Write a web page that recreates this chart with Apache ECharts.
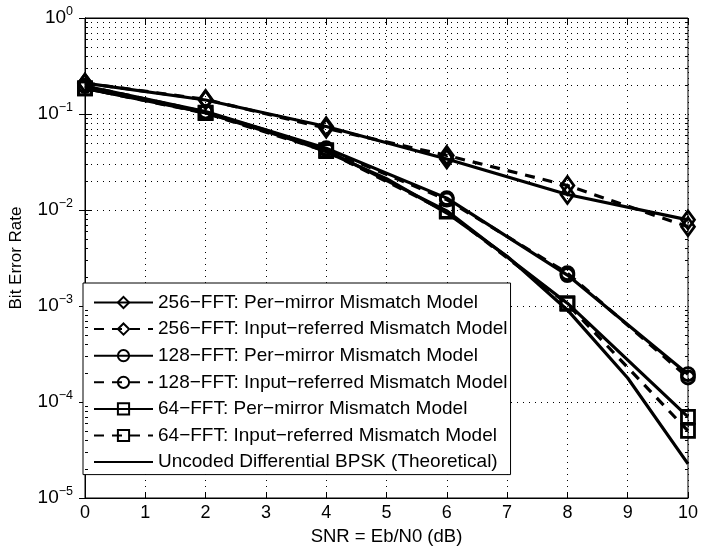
<!DOCTYPE html>
<html>
<head>
<meta charset="utf-8">
<script src="https://cdn.jsdelivr.net/npm/echarts@6/dist/echarts.min.js"></script>
<style>
  html, body { margin: 0; padding: 0; background: #fff; }
  #chart { width: 701px; height: 552px; }
</style>
</head>
<body>
<div id="chart"></div>
<script>
// SNR points (dB)
var snrMeasured = [0, 2, 4, 6, 8, 10]
var snrTheory = [0, 1, 2, 3, 4, 5, 6, 7, 8, 9, 10]

// bit error rates
var ber256Mirror = [0.21, 0.14, 0.074, 0.034, 0.0145, 0.0079]
var ber256Input = [0.21, 0.142, 0.071, 0.037, 0.018, 0.0067]
var ber128Mirror = [0.196, 0.106, 0.044, 0.0133, 0.0021, 0.000195]
var ber128Input = [0.196, 0.105, 0.043, 0.0128, 0.0022, 0.00018]
var ber64Mirror = [0.185, 0.103, 0.042, 0.0098, 0.00107, 0.00007]
var ber64Input = [0.185, 0.102, 0.041, 0.0096, 0.00105, 0.00005]
var berTheory = [0.184, 0.142, 0.1025, 0.068, 0.0405, 0.0212, 0.0093, 0.0033, 0.00091, 0.000178, 0.0000227]

var names = [
  '256\u2212FFT: Per\u2212mirror Mismatch Model',
  '256\u2212FFT: Input\u2212referred Mismatch Model',
  '128\u2212FFT: Per\u2212mirror Mismatch Model',
  '128\u2212FFT: Input\u2212referred Mismatch Model',
  '64\u2212FFT: Per\u2212mirror Mismatch Model',
  '64\u2212FFT: Input\u2212referred Mismatch Model',
  'Uncoded Differential BPSK (Theoretical)'
]

function pairs(xs, ys) {
  return xs.map(function (x, i) { return [x, ys[i]] })
}

// matlab style log grid: 2..9 x 10^k
var minorVals = []
for (var k = -5; k < 0; k++) {
  for (var m = 2; m <= 9; m++) minorVals.push(m * Math.pow(10, k))
}
var gridLines = minorVals.map(function (v) { return { yAxis: v } })
var minorTicks = []
minorVals.forEach(function (v) {
  minorTicks.push([{ coord: [0, v] }, { coord: [0.05, v] }])
  minorTicks.push([{ coord: [9.95, v] }, { coord: [10, v] }])
})

var font = 'Liberation Sans, Arial, Helvetica, sans-serif'
var dotted = { color: '#000', width: 1, type: [1, 5] }

function measured(name, ys, symbol, size, dashed) {
  return {
    name: name,
    type: 'line',
    data: pairs(snrMeasured, ys),
    symbol: symbol,
    symbolSize: size,
    showAllSymbol: true,
    lineStyle: { color: '#000', width: 3.2, type: dashed ? [10, 8] : 'solid' },
    itemStyle: { color: 'rgba(255,255,255,0)', borderColor: '#000', borderWidth: 2.8 },
    emphasis: { disabled: true }
  }
}

var myChart = echarts.init(document.getElementById('chart'))

var option = {
  animation: false,
  textStyle: { fontFamily: font },
  grid: { left: 81, right: 9, top: 18, bottom: 54, show: true, borderColor: '#000', borderWidth: 1, backgroundColor: '#fff' },
  legend: {
    orient: 'vertical',
    left: 83,
    top: 283,
    padding: [10, 3, 3, 10],
    itemWidth: 59,
    itemHeight: 14,
    itemGap: 7.6,
    backgroundColor: '#fff',
    borderColor: '#000',
    borderWidth: 1,
    textStyle: { fontFamily: font, fontSize: 19, color: '#000', lineHeight: 18 },
    data: names.slice(0, 6).concat([{ name: names[6], itemStyle: { opacity: 0 } }])
  },
  xAxis: [{
    type: 'value',
    min: 0,
    max: 10,
    interval: 1,
    name: 'SNR = Eb/N0 (dB)',
    nameLocation: 'middle',
    nameGap: 29,
    nameTextStyle: { fontSize: 18.5, color: '#000', fontFamily: font },
    axisLine: { lineStyle: { color: '#000' } },
    axisTick: { inside: true, length: 6, lineStyle: { color: '#000' } },
    axisLabel: { fontSize: 18, color: '#000', margin: 6, fontFamily: font },
    splitLine: { show: true, lineStyle: dotted }
  }, {
    type: 'value',
    position: 'top',
    min: 0,
    max: 10,
    interval: 1,
    axisLine: { show: true, lineStyle: { color: '#000' } },
    axisTick: { show: true, inside: true, length: 6, lineStyle: { color: '#000' } },
    axisLabel: { show: false },
    splitLine: { show: false }
  }],
  yAxis: [{
    type: 'log',
    logBase: 10,
    min: 1e-5,
    max: 1,
    name: 'Bit Error Rate',
    nameLocation: 'middle',
    nameGap: 60,
    nameTextStyle: { fontSize: 17, color: '#000', fontFamily: font },
    axisLine: { lineStyle: { color: '#000' } },
    axisTick: { inside: true, length: 6, lineStyle: { color: '#000' } },
    splitLine: { show: true, lineStyle: dotted },
    axisLabel: {
      margin: 12,
      color: '#000',
      formatter: function (v) {
        var e = Math.round(Math.log10(v))
        return '{b|10}{e|' + (e < 0 ? '\u2212' + (-e) : e) + '}'
      },
      rich: {
        b: { fontSize: 19, fontFamily: font, color: '#000' },
        e: { fontSize: 12.5, fontFamily: font, color: '#000', padding: [0, 0, 13, 0] }
      }
    }
  }, {
    type: 'log',
    logBase: 10,
    min: 1e-5,
    max: 1,
    position: 'right',
    axisLine: { show: true, lineStyle: { color: '#000' } },
    axisTick: { show: true, inside: true, length: 6, lineStyle: { color: '#000' } },
    axisLabel: { show: false },
    splitLine: { show: false }
  }],
  series: [
    measured(names[0], ber256Mirror, 'diamond', [13, 18], false),
    measured(names[1], ber256Input, 'diamond', [13, 18], true),
    measured(names[2], ber128Mirror, 'circle', 13, false),
    measured(names[3], ber128Input, 'circle', 13, true),
    measured(names[4], ber64Mirror, 'rect', 13, false),
    measured(names[5], ber64Input, 'rect', 13, true),
    {
      name: names[6],
      type: 'line',
      data: pairs(snrTheory, berTheory),
      showSymbol: false,
      symbol: 'none',
      lineStyle: { color: '#000', width: 3.2 },
      itemStyle: { color: '#000' },
      emphasis: { disabled: true },
      z: 3
    },
    {
      // minor grid lines of the log axis
      type: 'line',
      data: [],
      silent: true,
      z: 1,
      markLine: {
        silent: true,
        symbol: 'none',
        label: { show: false },
        animation: false,
        lineStyle: dotted,
        data: gridLines
      }
    },
    {
      // minor ticks on left and right edges
      type: 'line',
      data: [],
      silent: true,
      markLine: {
        silent: true,
        symbol: 'none',
        label: { show: false },
        animation: false,
        lineStyle: { color: '#000', width: 1, type: 'solid' },
        data: minorTicks
      }
    }
  ]
}

myChart.setOption(option)
</script>
</body>
</html>
